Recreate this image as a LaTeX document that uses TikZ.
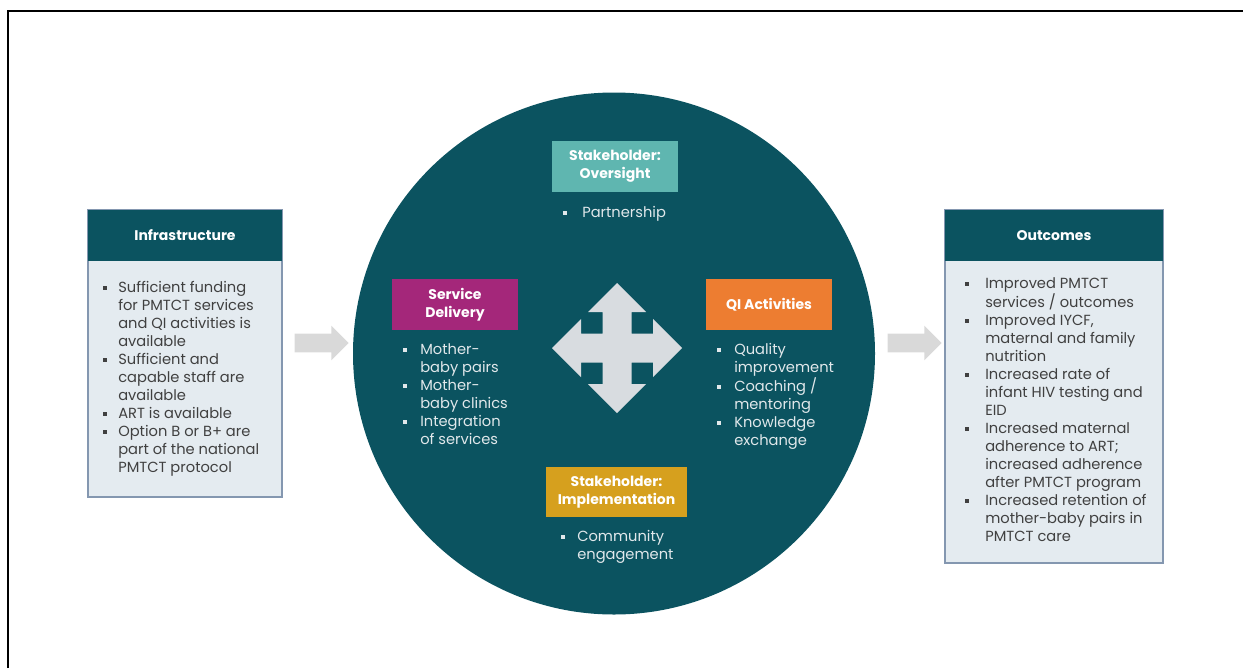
\documentclass[tikz,border=0pt]{standalone}
\usepackage{fontspec}
\setmainfont{Poppins}
\usetikzlibrary{shapes.arrows}

\definecolor{tealdark}{RGB}{11,83,96}
\definecolor{panelfill}{RGB}{228,235,240}
\definecolor{boxline}{RGB}{132,151,176}
\definecolor{oversight}{RGB}{95,182,176}
\definecolor{service}{RGB}{164,39,122}
\definecolor{qiorange}{RGB}{237,125,49}
\definecolor{implgold}{RGB}{214,160,30}
\definecolor{arrowgray}{RGB}{217,217,217}
\definecolor{crossgray}{RGB}{216,220,224}
\definecolor{textgray}{RGB}{64,64,64}
\definecolor{circtext}{RGB}{225,232,235}

\newcommand{\sq}{\rule[1.7pt]{3.1pt}{3.1pt}}
\newcommand{\blist}[2]{\begin{tabular}[t]{@{}p{#1}@{}l@{}}#2\end{tabular}}

\tikzset{
  panel/.style={draw=boxline, line width=0.9pt, fill=panelfill, inner sep=0pt},
  panelhead/.style={fill=tealdark, inner sep=0pt, text=white, font=\fontsize{10.5}{13.5}\selectfont\bfseries},
  tag/.style={inner sep=0pt, text=white, align=center, font=\fontsize{10.5}{13.5}\selectfont\bfseries, minimum height=38.25pt},
  bodytext/.style={anchor=base west, inner sep=0pt, text=textgray, font=\fontsize{11}{13.5}\selectfont},
  hubtxt/.style={bodytext, text=circtext},
  blockarrow/.style={shape=single arrow, fill=arrowgray, inner xsep=0pt, inner ysep=6.75pt, single arrow head extend=6pt, single arrow head indent=0pt, minimum height=40.5pt}
}

\begin{document}
\begin{tikzpicture}[x=0.75pt,y=0.75pt,yscale=-1,xscale=1]
\useasboundingbox (0,0) rectangle (1243,668);

%Frame
\draw [line width=1.5pt] (8,668) -- (8,11) -- (1243,11) ;

%Shape: Circle
\node [circle, fill=tealdark, inner sep=0pt, minimum size=391.5pt] (hub) at (614,353.5) {};

%Shape: Rectangle - left panel
\node [panel, minimum width=145.5pt, minimum height=215.25pt] (infra) at (185,353.5) {};
\node [panelhead, anchor=north, minimum width=145.5pt, minimum height=38.25pt] (infrahead) at (infra.north) {Infrastructure};
%Shape: Rectangle - right panel
\node [panel, minimum width=163.5pt, minimum height=264.75pt] (outc) at (1054,386.5) {};
\node [panelhead, anchor=north, minimum width=163.5pt, minimum height=38.25pt] (outchead) at (outc.north) {Outcomes};

%Block arrows
\node [blockarrow] (arrleft) at (317,343) {};
\node [blockarrow] (arrright) at (910,343) {};

%Shape: Cross arrow
\fill [crossgray] (617,283) -- (646,312) -- (631.5,312) -- (631.5,333.5) -- (653,333.5) -- (653,319) -- (682,348) -- (653,377) -- (653,362.5) -- (631.5,362.5) -- (631.5,384) -- (646,384) -- (617,413) -- (588,384) -- (602.5,384) -- (602.5,362.5) -- (581,362.5) -- (581,377) -- (552,348) -- (581,319) -- (581,333.5) -- (602.5,333.5) -- (602.5,312) -- (588,312) -- cycle ;

%Inner boxes
\node [tag, fill=oversight, minimum width=94.5pt] (overs) at (615,166.5) {Stakeholder:\\Oversight};
\node [tag, fill=service, minimum width=94.5pt] (serv) at (455,304.5) {Service\\Delivery};
\node [tag, fill=qiorange, minimum width=94.5pt] (qiact) at (769,304.5) {QI Activities};
\node [tag, fill=implgold, minimum width=105.75pt, minimum height=37.5pt] (impl) at (616.5,492) {Stakeholder:\\Implementation};

% Text Node
\draw (103,292) node [bodytext] (infralist) {\blist{11.25pt}{\sq & Sufficient funding\\ & for PMTCT services\\ & and QI activities is\\ & available\\ \sq & Sufficient and\\ & capable staff are\\ & available\\ \sq & ART is available\\ \sq & Option B or B+ are\\ & part of the national\\ & PMTCT protocol}};
% Text Node
\draw (965,288) node [bodytext] (outclist) {\blist{15pt}{\sq & Improved PMTCT\\ & services / outcomes\\ \sq & Improved IYCF,\\ & maternal and family\\ & nutrition\\ \sq & Increased rate of\\ & infant HIV testing and\\ & EID\\ \sq & Increased maternal\\ & adherence to ART;\\ & increased adherence\\ & after PMTCT program\\ \sq & Increased retention of\\ & mother-baby pairs in\\ & PMTCT care}};
% Text Node
\draw (563,217) node [hubtxt] (overslist) {\blist{14.25pt}{\sq & Partnership}};
% Text Node
\draw (403,354) node [hubtxt] (servlist) {\blist{12.75pt}{\sq & Mother-\\ & baby pairs\\ \sq & Mother-\\ & baby clinics\\ \sq & Integration\\ & of services}};
% Text Node
\draw (717,354) node [hubtxt] (qilist) {\blist{12.75pt}{\sq & Quality\\ & improvement\\ \sq & Coaching /\\ & mentoring\\ \sq & Knowledge\\ & exchange}};
% Text Node
\draw (561,541) node [hubtxt] (impllist) {\blist{12pt}{\sq & Community\\ & engagement}};

\end{tikzpicture}
\end{document}
